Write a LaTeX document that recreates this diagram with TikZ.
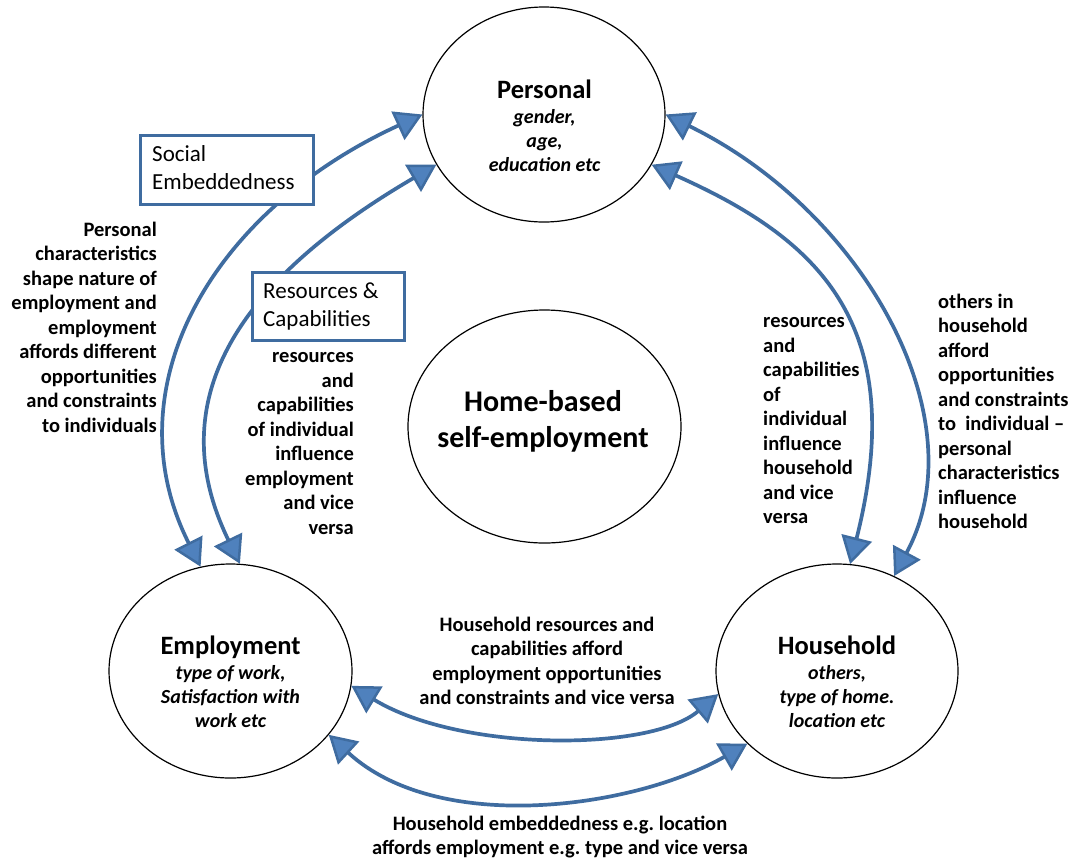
\documentclass[tikz,border=0pt]{standalone}
\usepackage{fontspec}
\setmainfont{Carlito}
\usetikzlibrary{shapes.geometric,arrows.meta}
\frenchspacing
\definecolor{arcline}{RGB}{63,108,160}
\definecolor{arrfill}{RGB}{79,129,189}
\begin{document}
\begin{tikzpicture}[x=1pt,y=-1pt,
  ell/.style={ellipse, draw=black, line width=1.2pt, inner sep=0pt, fill=white},
  arr/.style={draw=arcline, line width=3.7pt,
    >={Triangle[length=27pt,width=31pt,fill=arrfill,line width=2.5pt]}, <->},
  boxx/.style={draw=arcline, line width=2.7pt, fill=white, inner sep=0pt, anchor=north west},
  strutted/.style={inner sep=0pt, execute at begin node={\rule{0pt}{0.75em}}},
  lab/.style={strutted, font=\fontsize{20.5pt}{24.5pt}\selectfont\bfseries},
  sub/.style={strutted, anchor=north, align=center, font=\fontsize{20pt}{24pt}\selectfont\bfseries\itshape},
  ttl/.style={inner sep=0pt, anchor=base, font=\fontsize{26.5pt}{32pt}\selectfont\bfseries},
  boxtext/.style={strutted, anchor=north west, align=left, font=\fontsize{23pt}{28pt}\selectfont}
]
\fill[white] (0,0) rectangle (1078,863);
\useasboundingbox (0,0) rectangle (1078,863);

% ellipses
\node[ell, minimum width=242pt, minimum height=215pt] (per) at (544,114.5) {};
\node[ell, minimum width=273pt, minimum height=233pt] (home) at (544.5,426.5) {};
\node[ell, minimum width=243pt, minimum height=214pt] (emp) at (230.5,671) {};
\node[ell, minimum width=242pt, minimum height=214pt] (hh) at (837,671) {};

% connectors
\draw[arr] (per.180) .. controls (210,212) and (111,389) .. (emp.106);
\draw[arr] (per.205) .. controls (265,265) and (152,383) .. (emp.85);
\draw[arr] (per.-25) .. controls (816,238) and (911,322) .. (hh.83);
\draw[arr] (per.0) .. controls (863,211) and (979,418) .. (hh.59);
\draw[arr] (emp.-7) .. controls (460,752) and (650,752) .. (hh.191);
\draw[arr] (emp.-33) .. controls (439,836) and (635,808) .. (hh.219);

% boxes
\node[boxx, minimum width=173pt, minimum height=69pt] (soc) at (139,134) {};
\node[boxx, minimum width=152pt, minimum height=68pt] (res) at (251,271) {};
\node[boxtext] (soct) at (152,145) {Social\\Embeddedness};
\node[boxtext] (rest) at (263,283) {Resources \&\\Capabilities};

% ellipse texts
\node[ttl] (pert) at (544.5,98) {Personal};
\node[sub] (pers) at (544.5,109) {gender,\\age,\\education etc};
\node[strutted, anchor=north, align=center, font=\fontsize{30pt}{36pt}\selectfont\bfseries] (homet) at (543,390.5) {Home-based\\self-employment};
\node[ttl] (empt) at (230.5,654) {Employment};
\node[sub] (emps) at (230.5,665) {type of work,\\Satisfaction with\\work etc};
\node[ttl] (hht) at (837,654) {Household};
\node[sub] (hhs) at (837,665) {others,\\type of home.\\location etc};

% labels
\node[lab, anchor=north east, align=right] (l1) at (157,221.6) {Personal\\characteristics\\shape nature of\\employment and\\employment\\affords different\\opportunities\\and constraints\\to individuals};
\node[lab, anchor=north east, align=right] (l2) at (354,352.6) {resources\\and\\capabilities\\of individual\\influence\\employment\\and vice\\versa};
\node[lab, anchor=north west, align=left] (l3) at (763,317.6) {resources\\and\\capabilities\\of\\individual\\influence\\household\\and vice\\versa};
\node[lab, anchor=north west, align=left] (l4) at (938,293.6) {others in\\household\\afford\\opportunities\\and constraints\\to\ \ individual –\\personal\\characteristics\\influence\\household};
\node[lab, anchor=north, align=center] (l5) at (547,616.6) {Household resources and\\capabilities afford\\employment opportunities\\and constraints and vice versa};
\node[lab, anchor=north, align=center] (l6) at (560,815.6) {Household embeddedness e.g. location\\affords employment e.g. type and vice versa};
\end{tikzpicture}
\end{document}
